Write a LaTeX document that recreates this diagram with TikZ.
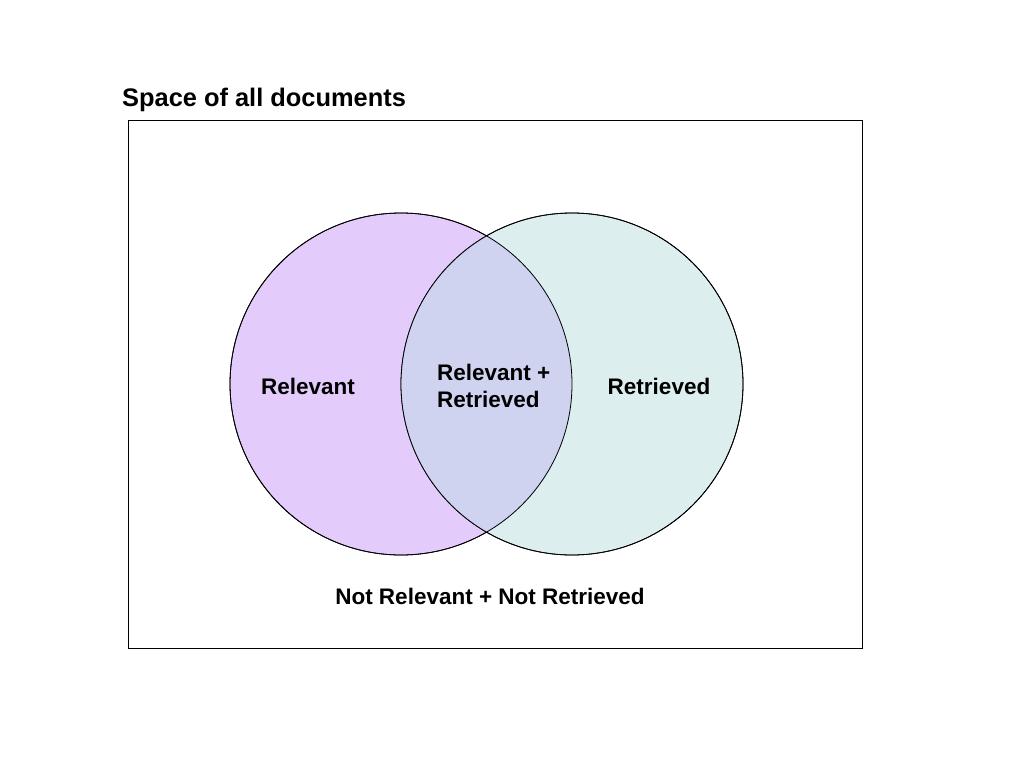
\documentclass[tikz,border=0pt]{standalone}
\usepackage{fontspec}
\setmainfont{Liberation Sans}
\usepackage{tikz}
\usetikzlibrary{positioning}
\definecolor{relfill}{HTML}{E3CCFB}
\definecolor{retfill}{HTML}{DCEEEE}
\definecolor{bothfill}{HTML}{D0D3EF}

\begin{document}
\begin{tikzpicture}[x=1pt, y=-1pt,
  setcirc/.style={circle, draw=black, line width=0.8pt, minimum size=342pt, inner sep=0pt},
  lbl/.style={font=\fontsize{22.5}{27}\selectfont\bfseries, inner sep=0pt},
]
  \useasboundingbox (0,0) rectangle (1024,768);
  % space of all documents
  \node[draw=black, line width=0.8pt, minimum width=734pt, minimum height=528pt,
    inner sep=0pt] (space) at (495,384) {};
  \node[font=\fontsize{25.4}{30}\selectfont\bfseries, anchor=west, inner sep=0pt]
    (title) at (122,100) {Space of all documents};
  % the two sets
  \node[setcirc, fill=relfill] (rel) at (401,384) {};
  \node[setcirc, fill=retfill] (ret) at (572,384) {};
  \begin{scope}
    \clip (401,384) circle (171);
    \fill[bothfill] (572,384) circle (171);
  \end{scope}
  \draw[line width=0.8pt] (401,384) circle (171);
  \draw[line width=0.8pt] (572,384) circle (171);
  % labels
  \node[lbl] (rellbl) at (308,386) {Relevant};
  \node[lbl] (retlbl) at (659,386) {Retrieved};
  \node[lbl, align=left, anchor=west] (bothlbl) at (437,386) {Relevant +\\Retrieved};
  \node[lbl] (nonelbl) at (490,596) {Not Relevant + Not Retrieved};
\end{tikzpicture}
\end{document}
